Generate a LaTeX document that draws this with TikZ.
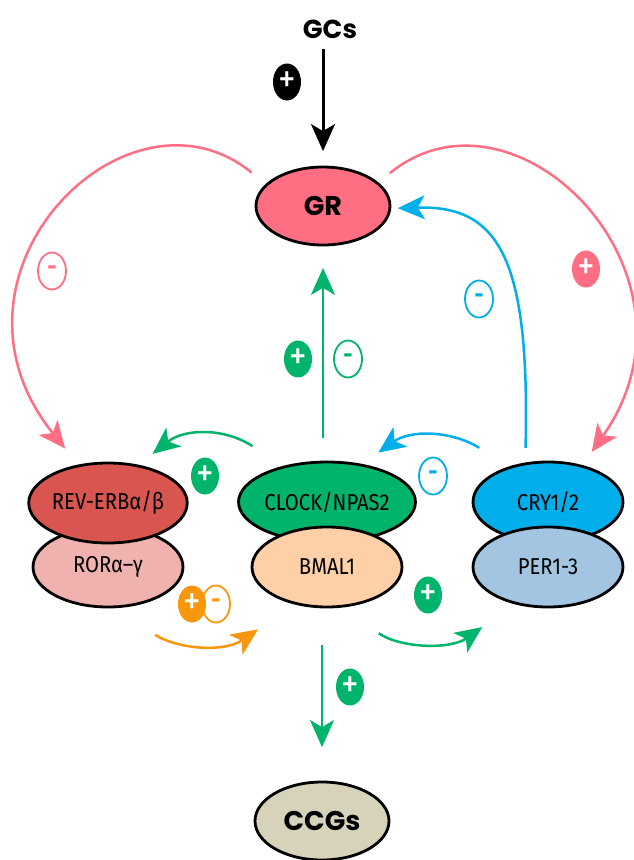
\documentclass[tikz,border=0pt]{standalone}
\usepackage{fontspec}
\setmainfont{Fira Sans}[FakeStretch=0.88]
\newfontfamily\headfont{Poppins}
\usetikzlibrary{shapes.geometric,arrows.meta}

\definecolor{grpink}{HTML}{FF6E82}
\definecolor{clgreen}{HTML}{00B56B}
\definecolor{crblue}{HTML}{00AEEA}
\definecolor{rorange}{HTML}{F8960E}
\definecolor{revred}{HTML}{D85550}
\definecolor{rorpink}{HTML}{F0B2AF}
\definecolor{bmalpeach}{HTML}{FDD0A8}
\definecolor{perblue}{HTML}{A3C5E1}
\definecolor{ccgbeige}{HTML}{D6D3BA}

\begin{document}
\begin{tikzpicture}[x=1pt, y=-1pt,
    gene/.style={ellipse, draw=black, line width=2.8pt, minimum width=150pt,
      minimum height=80pt, inner sep=0pt, font=\fontsize{23}{23}\selectfont},
    hub/.style={gene, minimum width=134pt, minimum height=78pt,
      font=\headfont\bfseries\fontsize{27}{27}\selectfont},
    plus/.style={ellipse, fill=#1, minimum width=28pt, minimum height=37pt,
      inner sep=0pt, text=white, font=\fontsize{40}{40}\selectfont},
    minus/.style={ellipse, draw=#1, fill=white, line width=1.8pt, minimum width=28pt,
      minimum height=37pt, inner sep=0pt, text=#1, font=\bfseries\fontsize{26}{26}\selectfont},
    link/.style={line width=2.5pt, -{Stealth[length=27pt, width=24pt, inset=7pt]}}]

    \useasboundingbox (0,0) rectangle (633,860);

    \node[font=\headfont\bfseries\fontsize{26}{26}\selectfont] (GCs) at (330,29) {GCs};
    \node[hub, fill=grpink]   (GR)   at (323,206) {GR};
    \node[hub, fill=ccgbeige] (CCGs) at (322,821) {CCGs};

    \node[gene, fill=rorpink]   (ROR)   at (108,567) {RORα–γ};
    \node[gene, fill=revred]    (REV)   at (108,503) {REV-ERBα/β};
    \node[gene, fill=clgreen]   (CLOCK) at (327,502) {CLOCK/NPAS2};
    \node[gene, fill=bmalpeach] (BMAL)  at (327,567) {BMAL1};
    \node[gene, fill=crblue]    (CRY)   at (548,502) {CRY1/2};
    \node[gene, fill=perblue]   (PER)   at (548,567) {PER1-3};

    \node[plus=black]   (pGC)    at (287,82)  {+};
    \node[minus=grpink] (mGRrev) at (52,271)  {-};
    \node[plus=grpink]  (pGRcry) at (586,269) {+};
    \node[minus=crblue] (mCRYgr) at (479,299) {-};
    \node[plus=clgreen] (pCLgr)  at (298,359) {+};
    \node[minus=clgreen] (mCLgr) at (348,359) {-};
    \node[plus=clgreen] (pCLrev) at (205,476) {+};
    \node[minus=crblue] (mCRYcl) at (433,476) {-};
    \node[minus=rorange] (mROR)  at (216,604) {-};
    \node[plus=rorange] (pROR)   at (192,604) {+};
    \node[plus=clgreen] (pCLper) at (428,595) {+};
    \node[plus=clgreen] (pCCG)   at (350,687) {+};

    \path[link]
        (GCs.south -| GR.north) edge[black, line width=3pt, shorten <=7pt, shorten >=14.5pt] (GR.north)
        (CLOCK.north -| GR.south) edge[clgreen, shorten <=22.5pt, shorten >=21.5pt] (GR.south)
        (BMAL.south -| CCGs.north) edge[clgreen, shorten <=36.5pt, shorten >=33.5pt] (CCGs.north);

    \draw[link, grpink, shorten <=18pt, shorten >=20.5pt]
        (GR.159) .. controls (127,71) and (-75,274) .. (REV.128);
    \draw[link, grpink, shorten <=14.5pt, shorten >=16pt]
        (GR.23) .. controls (515,71) and (717,274) .. (CRY.47);
    \draw[link, crblue, shorten <=14.5pt, shorten >=6.5pt]
        (CRY.120) .. controls (530,260) and (500,205) .. (GR.358);
    \draw[link, clgreen, shorten <=36pt, shorten >=17.5pt]
        (CLOCK.141) .. controls (225,428) and (185,428) .. (REV.51);
    \draw[link, crblue, shorten <=35.5pt, shorten >=19.5pt]
        (CRY.137) .. controls (450,430) and (410,430) .. (CLOCK.47);
    \draw[link, rorange, shorten <=51pt, shorten >=44pt]
        (ROR.275) .. controls (180,650) and (225,652) .. (BMAL.229);
    \draw[link, clgreen, shorten <=45pt, shorten >=39.5pt]
        (BMAL.290) .. controls (400,648) and (450,650) .. (PER.228);
\end{tikzpicture}
\end{document}
